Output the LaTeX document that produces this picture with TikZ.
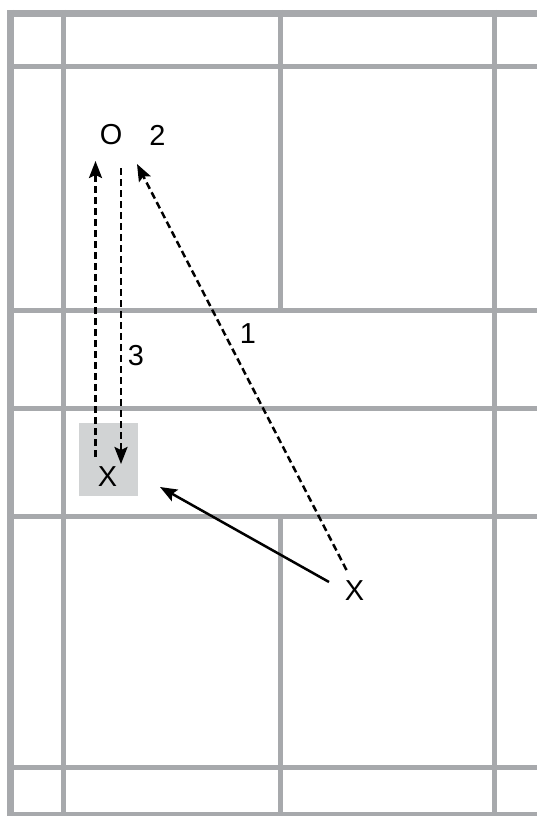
\documentclass[tikz,border=0pt]{standalone}
\usepackage{fontspec}
\setmainfont{Liberation Sans}
\usetikzlibrary{arrows.meta}
\definecolor{gridgray}{RGB}{167,169,172}
\definecolor{boxgray}{RGB}{209,211,212}
\begin{document}
\begin{tikzpicture}[x=1bp,y=-1bp,
  gridline/.style={draw=gridgray,line width=5bp},
  outerline/.style={draw=gridgray,line width=7.5bp},
  lbl/.style={inner sep=0pt,font=\fontsize{29}{29}\selectfont},
  move/.style={line width=2.5bp,-{Stealth[length=17bp,width=13bp,inset=3bp]}},
  dashmove/.style={move,dash pattern=on 7bp off 4bp}]
\useasboundingbox (0,0) rectangle (537,816);
\fill[white] (0,0) rectangle (537,816);
% grid
\draw[gridline] (63,10) -- (63,816);
\draw[gridline] (280,10) -- (280,310);
\draw[gridline] (280,516.5) -- (280,816);
\draw[gridline] (494.5,10) -- (494.5,816);
\draw[gridline] (7,67) -- (537,67);
\draw[gridline] (7,310) -- (537,310);
\draw[gridline] (7,408.5) -- (537,408.5);
\draw[gridline] (7,516.5) -- (537,516.5);
\draw[gridline] (7,767) -- (537,767);
\draw[gridline] (7,814.5) -- (537,814.5);
\draw[outerline] (10.5,10) -- (10.5,816);
\draw[outerline] (7,13.5) -- (537,13.5);
% highlight box
\node[fill=boxgray,inner sep=0pt,minimum width=59bp,minimum height=73bp] (hl) at (108.5,459.5) {};
% labels
\node[lbl] (o) at (111,135) {O};
\node[lbl] (two) at (157.5,135) {2};
\node[lbl] (three) at (136,356) {3};
\node[lbl] (one) at (248,334) {1};
\node[lbl] (xa) at (107.5,477) {X};
\node[lbl] (xb) at (354.5,591) {X};
% connector ends
\coordinate (upS) at (95.5,457);
\coordinate (upE) at (95.5,161);
\coordinate (dnS) at (121,168);
\coordinate (dnE) at (121,464);
\coordinate (dgS) at (346.5,570);
\coordinate (dgE) at (137,164);
\coordinate (slS) at (329,582);
\coordinate (slE) at (160,487);
\draw[dashmove] (upS) -- (upE);
\draw[dashmove] (dnS) -- (dnE);
\draw[dashmove] (dgS) -- (dgE);
\draw[move] (slS) -- (slE);
\end{tikzpicture}
\end{document}
